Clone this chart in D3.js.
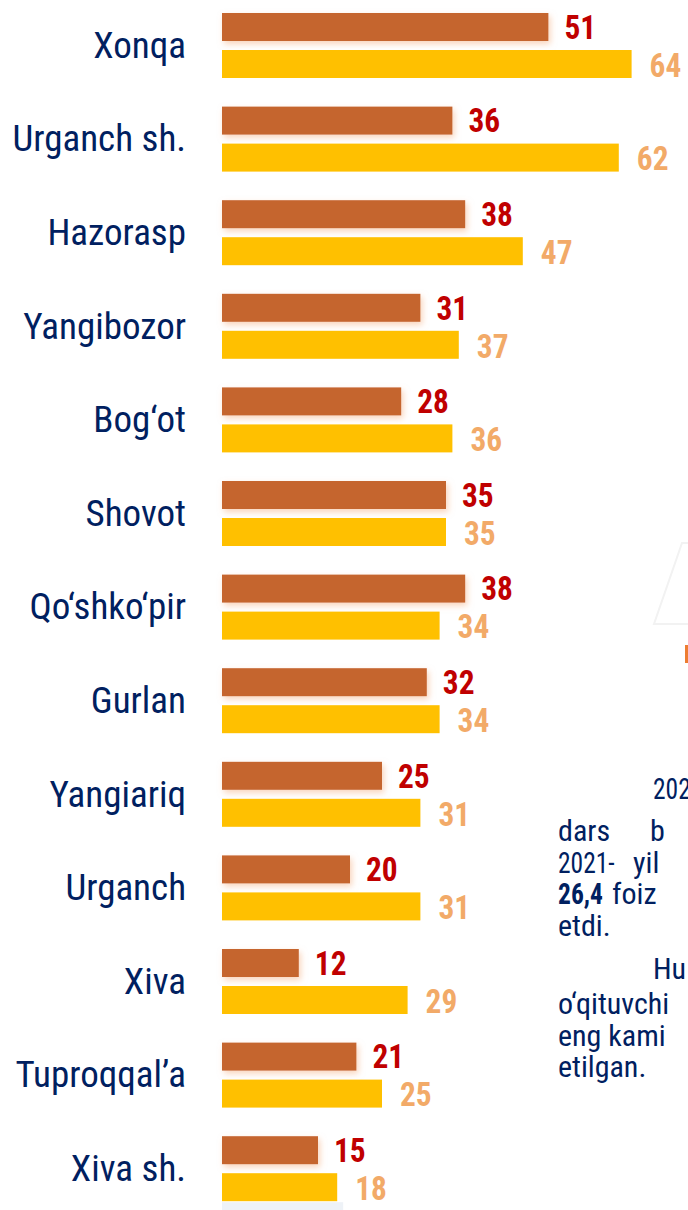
<!DOCTYPE html>
<html lang="uz">
<head>
<meta charset="UTF-8">
<title>Tumanlar</title>
<style>
  html, body { margin: 0; padding: 0; background: #fff; overflow: hidden; }
  svg text { font-family: "Roboto Condensed", Roboto, "Noto Sans", sans-serif; }
</style>
</head>
<body>
<svg></svg>
<script src="https://cdn.jsdelivr.net/npm/d3@7/dist/d3.min.js"></script>
<script>
  var categories = ['Xonqa', 'Urganch sh.', 'Hazorasp', 'Yangibozor', 'Bog‘ot', 'Shovot', 'Qo‘shko‘pir',
    'Gurlan', 'Yangiariq', 'Urganch', 'Xiva', 'Tuproqqal’a', 'Xiva sh.']
  var seriesA = [51, 36, 38, 31, 28, 35, 38, 32, 25, 20, 12, 21, 15]
  var seriesB = [64, 62, 47, 37, 36, 35, 34, 34, 31, 31, 29, 25, 18]
  var seriesKeys = ['a', 'b']

  // fragments of the paragraph cut off at the right edge
  var paragraphWords = [
    ['202'], ['dars', 'b'], ['2021-', 'yil'], ['26,4', 'foiz'], ['etdi.'],
    ['Hu'], ['o‘qituvchi'], ['eng kami'], ['etilgan.']
  ]
  var boldWords = ['26,4']

  var width = 688
  var height = 1210

  // where each paragraph line and word sits (justified text)
  var lineGaps = [0, 42, 32, 31, 32, 43, 35, 32, 31]
  var wordX = [[653], [558, 650], [558, 633], [558, 612], [558], [653], [558], [558], [558]]

  var svg = d3.select('svg').attr('width', width).attr('height', height)

  var defs = svg.append('defs')
  var glow = defs.append('filter').attr('id', 'glow')
    .attr('x', '-10%').attr('y', '-40%').attr('width', '125%').attr('height', '190%')
  glow.append('feDropShadow')
    .attr('dx', 2).attr('dy', 3).attr('stdDeviation', 3)
    .attr('flood-color', '#f4b183').attr('flood-opacity', 0.55)

  var xScale = d3.scaleLinear().domain([0, 64]).range([222, 222 + 409.6])
  var yScale = d3.scaleBand().domain(categories)
    .range([-1.3, -1.3 + 93.6 * 13])
    .paddingInner(0.3056).paddingOuter(0.1528)
  var inner = d3.scaleBand().domain(seriesKeys).range([0, yScale.bandwidth()]).paddingInner(9 / 37)

  // squeeze the glyphs a little to imitate the condensed face
  function condense(sel, k) {
    sel.each(function () {
      var len = this.getComputedTextLength()
      d3.select(this).attr('textLength', len * k).attr('lengthAdjust', 'spacingAndGlyphs')
    })
  }

  var rows = categories.map((c, i) => ({cat: c, a: seriesA[i], b: seriesB[i]}))

  // faint shadow under the last bar
  svg.append('rect')
    .attr('x', xScale(0)).attr('y', yScale('Xiva sh.') + inner('b') + inner.bandwidth() + 1)
    .attr('width', xScale(seriesB[12]) - xScale(0) + 6).attr('height', 8)
    .attr('fill', '#eef2f7')

  var g = svg.selectAll('g.row').data(rows).enter().append('g')
    .attr('class', 'row')
    .attr('transform', d => `translate(0,${yScale(d.cat)})`)

  g.append('rect')
    .attr('x', xScale(0))
    .attr('y', inner('a'))
    .attr('width', d => xScale(d.a) - xScale(0))
    .attr('height', inner.bandwidth())
    .attr('fill', '#c5652f')
    .attr('filter', 'url(#glow)')

  g.append('rect')
    .attr('x', xScale(0))
    .attr('y', inner('b'))
    .attr('width', d => xScale(d.b) - xScale(0))
    .attr('height', inner.bandwidth())
    .attr('fill', '#ffc000')

  g.append('text')
    .attr('x', d => xScale(d.a) + 16)
    .attr('y', inner('a') + inner.bandwidth() / 2)
    .attr('dy', '0.36em')
    .attr('font-size', 33).attr('font-weight', 700)
    .attr('fill', '#c00000')
    .text(d => d.a)
    .call(condense, 0.95)

  g.append('text')
    .attr('x', d => xScale(d.b) + 18)
    .attr('y', inner('b') + inner.bandwidth() / 2 + 1)
    .attr('dy', '0.36em')
    .attr('font-size', 33).attr('font-weight', 700)
    .attr('fill', '#f2aa68')
    .text(d => d.b)
    .call(condense, 0.95)

  g.append('text')
    .attr('x', 186)
    .attr('y', yScale.bandwidth() / 2 - 1)
    .attr('dy', '0.36em')
    .attr('text-anchor', 'end')
    .attr('font-size', 37)
    .attr('fill', '#002060')
    .text(d => d.cat)

  // paragraph fragments on the right
  var baseY = 799
  paragraphWords.forEach(function (words, li) {
    baseY += lineGaps[li]
    words.forEach(function (w, wi) {
      var t = svg.append('text')
        .attr('x', wordX[li][wi]).attr('y', baseY)
        .attr('font-size', 30)
        .attr('font-weight', boldWords.includes(w) ? 700 : 400)
        .attr('fill', '#002060')
        .text(w)
      if (/\d/.test(w)) t.call(condense, 0.85)
    })
  })

  // faint outline and small marker cut off at the edge
  svg.append('path')
    .attr('d', 'M690,543 L682,543 L654,624 L690,624')
    .attr('fill', 'none').attr('stroke', '#f2f2f2').attr('stroke-width', 2)
  svg.append('rect')
    .attr('x', 685).attr('y', 645).attr('width', 4).attr('height', 18)
    .attr('fill', '#ed7d31')
</script>
</body>
</html>
